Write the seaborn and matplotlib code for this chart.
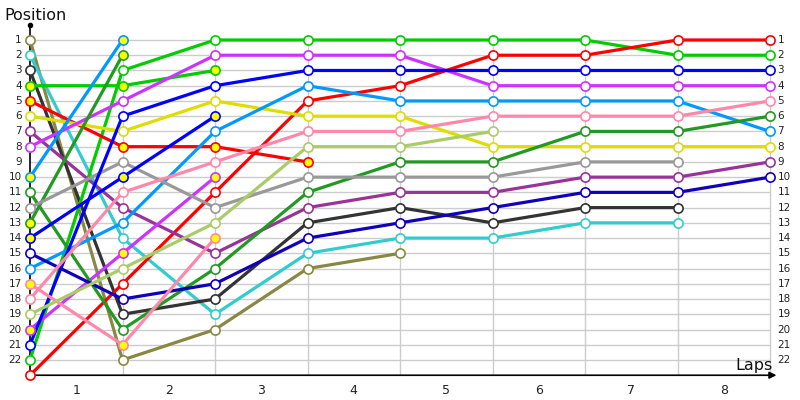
import matplotlib
matplotlib.use("Agg")
import matplotlib.pyplot as plt
import seaborn as sns
import pandas as pd

# ---------------- data ----------------
laps = [0, 1, 2, 3, 4, 5, 6, 7, 8]
lap_labels = ["1", "2", "3", "4", "5", "6", "7", "8"]
positions = list(range(1, 23))

olive = [1, 22, 20, 16, 15]
cyan = [2, 14, 19, 15, 14, 14, 13, 13]
black = [3, 19, 18, 13, 12, 13, 12, 12]
green_a = [22, 3, 1, 1, 1, 1, 1, 2, 2]
green_b = [4, 4, 3]
red_a = [5, 8, 8, 9]
red_b = [23, 17, 11, 5, 4, 2, 2, 1, 1]
yellow = [6, 7, 5, 6, 6, 8, 8, 8, 8]
purple = [7, 12, 15, 12, 11, 11, 10, 10, 9]
violet_a = [8, 5, 2, 2, 2, 4, 4, 4, 4]
violet_b = [20, 15, 10]
lightblue_a = [10, 1]
lightblue_b = [16, 13, 7, 4, 5, 5, 5, 5, 7]
darkgreen_a = [11, 20, 16, 11, 9, 9, 7, 7, 6]
darkgreen_b = [13, 2]
gray = [12, 9, 12, 10, 10, 10, 9, 9]
blue_a = [14, 10, 6]
blue_b = [21, 6, 4, 3, 3, 3, 3, 3, 3]
darkblue = [15, 18, 17, 14, 13, 12, 11, 11, 10]
pink_a = [17, 21, 14]
pink_b = [18, 11, 9, 7, 7, 6, 6, 6, 5]
lightgreen = [19, 16, 13, 8, 8, 7]

cars = {
    "olive": (olive, "#888844", False),
    "cyan": (cyan, "#33cccc", False),
    "black": (black, "#333333", False),
    "green_a": (green_a, "#00cc00", False),
    "green_b": (green_b, "#00cc00", True),
    "red_a": (red_a, "#ff0000", True),
    "red_b": (red_b, "#ff0000", False),
    "yellow": (yellow, "#dddd00", False),
    "purple": (purple, "#993399", False),
    "violet_a": (violet_a, "#cc33ff", False),
    "violet_b": (violet_b, "#cc33ff", True),
    "lightblue_a": (lightblue_a, "#0099ff", True),
    "lightblue_b": (lightblue_b, "#0099ff", False),
    "darkgreen_a": (darkgreen_a, "#229922", False),
    "darkgreen_b": (darkgreen_b, "#229922", True),
    "gray": (gray, "#999999", False),
    "blue_a": (blue_a, "#0000ff", True),
    "blue_b": (blue_b, "#0000ff", False),
    "darkblue": (darkblue, "#1100bb", False),
    "pink_a": (pink_a, "#ff88aa", True),
    "pink_b": (pink_b, "#ff88aa", False),
    "lightgreen": (lightgreen, "#aacc66", False),
}

rows = []
for name, (pos, col, yel) in cars.items():
    for lap, p in zip(laps, pos):
        rows.append({"car": name, "lap": lap, "pos": p})
df = pd.DataFrame(rows)
palette = {k: v[1] for k, v in cars.items()}

# ---------------- figure ----------------
sns.set_style("white")
plt.rcParams["font.family"] = ["DejaVu Sans"]
fig = plt.figure(figsize=(8, 4), dpi=100)
ax = fig.add_axes([0, 0, 1, 1])
x0, xs = 30.0, 92.5
y0, ys = 40.0, 15.238
XL = (-x0 / xs, (800 - x0) / xs)
YL = (1 + (400 - y0) / ys, 1 - y0 / ys)

grid_c = "#cccccc"
for p in positions:
    ax.plot([0, 8], [p, p], color=grid_c, lw=1, zorder=1)
for l in laps[1:]:
    ax.plot([l, l], [1, 23], color=grid_c, lw=1, zorder=1)

# axes with arrows
ax.plot([0, 0], [23, 0.0], color="black", lw=1.2, zorder=2)
ax.plot([0], [0.0], marker="o", color="black", ms=3, zorder=2)
ax.annotate("", xy=(8.1, 23), xytext=(0, 23),
            arrowprops=dict(arrowstyle="-|>", color="black", lw=1.2,
                            mutation_scale=10), zorder=2)

sns.lineplot(data=df, x="lap", y="pos", hue="car", palette=palette,
             estimator=None, sort=False, legend=False, linewidth=2.3,
             ax=ax, zorder=3)
ax.set_xlim(*XL)
ax.set_ylim(*YL)
ax.axis("off")

for name, (pos, col, yel) in cars.items():
    ax.scatter(laps[:len(pos)], pos, s=44, facecolor="#ffff00" if yel else "white",
               edgecolor=col, linewidths=1.2, zorder=4, clip_on=False)

# labels
for p in positions:
    ax.text(-0.09, p, str(p), ha="right", va="center", fontsize=7.5, color="#222222")
    ax.text(8.08, p, str(p), ha="left", va="center", fontsize=7.5, color="#222222")
for i, lab in enumerate(lap_labels):
    ax.text(i + 0.5, 24.0, lab, ha="center", va="center", fontsize=9, color="#222222")

ax.text(-0.28, -0.6, "Position", ha="left", va="center", fontsize=11.5, color="#111111")
ax.text(8.03, 22.35, "Laps", ha="right", va="center", fontsize=11.5, color="#111111")

fig.savefig("out.png", dpi=100)
